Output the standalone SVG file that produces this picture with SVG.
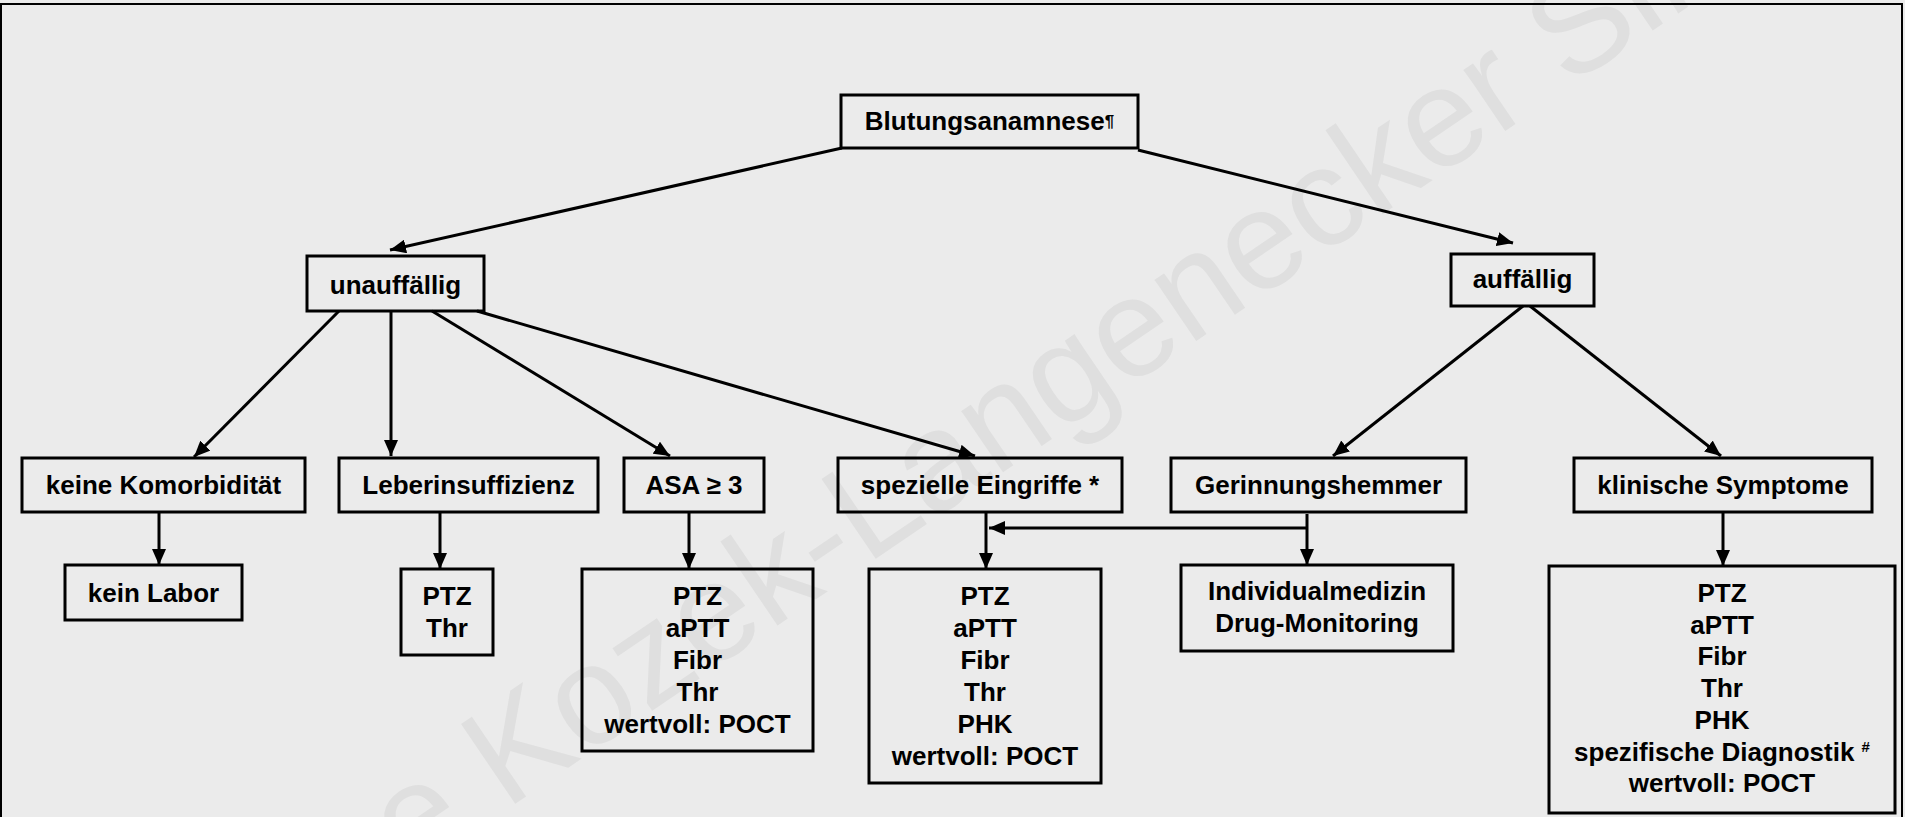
<svg xmlns="http://www.w3.org/2000/svg" width="1905" height="817" viewBox="0 0 1905 817">
<defs>
<marker id="ah" viewBox="0 0 16 14" refX="16" refY="7" markerWidth="16" markerHeight="14" markerUnits="userSpaceOnUse" orient="auto"><path d="M0,0 L16,7 L0,14 z" fill="#000"/></marker>
</defs>
<style>
.box{fill:none;stroke:#000;stroke-width:3}
.t{font-family:"Liberation Sans",Arial,sans-serif;font-weight:bold;font-size:26px;fill:#000;text-anchor:middle}
.c line{stroke:#000;stroke-width:3;marker-end:url(#ah)}
.wm{font-family:"Liberation Sans",Arial,sans-serif;font-size:140px;fill:#dfdfdf}
</style>
<rect width="1905" height="817" fill="#ebebeb"/>
<text class="wm" transform="translate(506,810) rotate(-34.2)" x="-117">e Kozek-Langenecker Sibylle</text>
<rect x="1" y="4" width="1901" height="900" fill="none" stroke="#000" stroke-width="2"/>

<g class="c" id="connectors">
<line x1="842" y1="148" x2="390" y2="250"/>
<line x1="1138" y1="150" x2="1513" y2="243"/>
<line x1="339" y1="311" x2="194" y2="457"/>
<line x1="391" y1="312" x2="391" y2="456"/>
<line x1="432" y1="311" x2="670" y2="456"/>
<line x1="477" y1="311" x2="975" y2="456"/>
<line x1="1523" y1="306" x2="1333" y2="456"/>
<line x1="1530" y1="306" x2="1721" y2="456"/>
<line x1="159" y1="512" x2="159" y2="565"/>
<line x1="440" y1="512" x2="440" y2="569"/>
<line x1="689" y1="512" x2="689" y2="569"/>
<line x1="986" y1="512" x2="986" y2="569"/>
<line x1="1307" y1="514" x2="1307" y2="565"/>
<line x1="1307" y1="528" x2="989" y2="528"/>
<line x1="1723" y1="512" x2="1723" y2="566"/>
</g>

<g id="n-blutungsanamnese"><rect class="box" x="841" y="95" width="297" height="53"/><text class="t" x="989.5" y="130">Blutungsanamnese<tspan font-size="17" dy="-3">¶</tspan></text></g>
<g id="n-unauffaellig"><rect class="box" x="307" y="256" width="177" height="55"/><text class="t" x="395.5" y="294">unauffällig</text></g>
<g id="n-auffaellig"><rect class="box" x="1451" y="254" width="143" height="52"/><text class="t" x="1522.5" y="288">auffällig</text></g>

<g id="n-keine"><rect class="box" x="22" y="458" width="283" height="54"/><text class="t" x="163.5" y="494">keine Komorbidität</text></g>
<g id="n-leber"><rect class="box" x="339" y="458" width="259" height="54"/><text class="t" x="468.5" y="494">Leberinsuffizienz</text></g>
<g id="n-asa"><rect class="box" x="624" y="458" width="140" height="54"/><text class="t" x="694" y="494">ASA ≥ 3</text></g>
<g id="n-spezielle"><rect class="box" x="838" y="458" width="284" height="54"/><text class="t" x="980" y="494">spezielle Eingriffe *</text></g>
<g id="n-gerinnung"><rect class="box" x="1171" y="458" width="295" height="54"/><text class="t" x="1318.5" y="494">Gerinnungshemmer</text></g>
<g id="n-klinisch"><rect class="box" x="1574" y="458" width="298" height="54"/><text class="t" x="1723" y="494">klinische Symptome</text></g>

<g id="n-keinlabor"><rect class="box" x="65" y="565" width="177" height="55"/><text class="t" x="153.5" y="602">kein Labor</text></g>
<g id="n-ptzthr"><rect class="box" x="401" y="569" width="92" height="86"/><text class="t"><tspan x="447" y="605">PTZ</tspan><tspan x="447" y="637">Thr</tspan></text></g>
<g id="n-asa-labor"><rect class="box" x="582" y="569" width="231" height="182"/><text class="t"><tspan x="697.5" y="605">PTZ</tspan><tspan x="697.5" y="637">aPTT</tspan><tspan x="697.5" y="669">Fibr</tspan><tspan x="697.5" y="701">Thr</tspan><tspan x="697.5" y="733">wertvoll: POCT</tspan></text></g>
<g id="n-spez-labor"><rect class="box" x="869" y="569" width="232" height="214"/><text class="t"><tspan x="985" y="605">PTZ</tspan><tspan x="985" y="637">aPTT</tspan><tspan x="985" y="669">Fibr</tspan><tspan x="985" y="701">Thr</tspan><tspan x="985" y="733">PHK</tspan><tspan x="985" y="765">wertvoll: POCT</tspan></text></g>
<g id="n-individual"><rect class="box" x="1181" y="565" width="272" height="86"/><text class="t"><tspan x="1317" y="600">Individualmedizin</tspan><tspan x="1317" y="632">Drug-Monitoring</tspan></text></g>
<g id="n-klin-labor"><rect class="box" x="1549" y="566" width="346" height="247"/><text class="t"><tspan x="1722" y="602">PTZ</tspan><tspan x="1722" y="633.7">aPTT</tspan><tspan x="1722" y="665.4">Fibr</tspan><tspan x="1722" y="697.1">Thr</tspan><tspan x="1722" y="728.8">PHK</tspan><tspan x="1722" y="760.5">spezifische Diagnostik <tspan font-size="15" dy="-9">#</tspan></tspan><tspan x="1722" y="792.2">wertvoll: POCT</tspan></text></g>
</svg>
